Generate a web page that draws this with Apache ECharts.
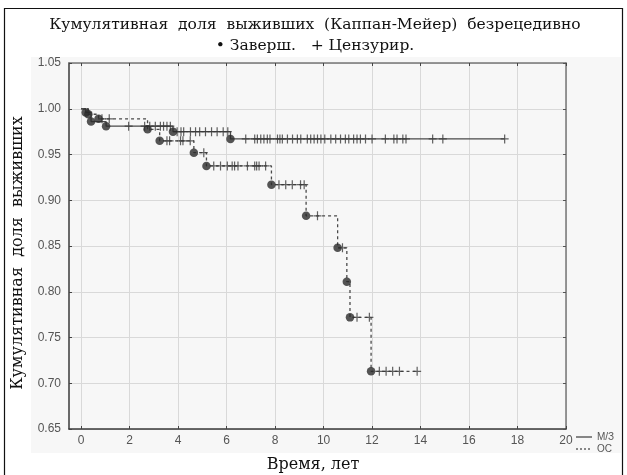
<!DOCTYPE html>
<html>
<head>
<meta charset="utf-8">
<script src="https://cdn.jsdelivr.net/npm/echarts@6/dist/echarts.min.js"></script>
<style>
  html, body { margin: 0; padding: 0; background: #fff; }
  #chart { width: 627px; height: 475px; }
</style>
</head>
<body>
<div id="chart"></div>
<script>
// Kaplan–Meier relapse-free survival, two groups.
// Events (completed observations): time in years and survival after the drop.
const mzEventTime = [0.19, 0.41, 1.03, 3.79, 6.16];
const mzEventSurv = [0.996, 0.986, 0.981, 0.975, 0.967];
// Censored observations (years)
const mzCensorTime = [1.96, 2.62, 2.83, 3.06, 3.27, 3.40, 3.54, 3.68, 3.96, 4.12, 4.23, 4.51, 4.72, 4.89,
  5.13, 5.38, 5.61, 5.86, 6.05, 6.79, 7.16, 7.27, 7.41, 7.54, 7.68, 7.79, 8.10, 8.20, 8.30, 8.51,
  8.72, 8.92, 9.06, 9.33, 9.47, 9.61, 9.75, 9.89, 10.05, 10.30, 10.50, 10.70, 10.90, 11.04, 11.24,
  11.38, 11.52, 11.73, 12.00, 12.55, 12.90, 13.03, 13.27, 13.40, 14.50, 14.92, 17.47];

const ocEventTime = [0.30, 0.72, 2.74, 3.24, 4.65, 5.17, 7.85, 9.28, 10.58, 10.96, 11.09, 11.96];
const ocEventSurv = [0.994, 0.989, 0.9775, 0.965, 0.952, 0.9375, 0.917, 0.883, 0.848, 0.811, 0.772, 0.713];
const ocCensorTime = [0.86, 1.16, 3.54, 3.65, 4.10, 4.20, 4.50, 5.06, 5.47, 5.75, 6.03, 6.23, 6.33, 6.47,
  6.86, 7.16, 7.24, 7.34, 7.61, 8.16, 8.44, 8.71, 9.05, 9.20, 9.75, 10.78, 11.38, 11.89, 12.30,
  12.58, 12.85, 13.13, 13.86];

const seriesNames = ['М/З', 'ОС'];
const xTicks = [0, 2, 4, 6, 8, 10, 12, 14, 16, 18, 20];

// survival level of a step curve at time t
function survAt(times, surv, t) {
  let s = 1;
  for (let i = 0; i < times.length; i++) if (times[i] <= t) s = surv[i];
  return s;
}
function stepLine(times, surv, censor) {
  const pts = [[0, 1]];
  times.forEach((t, i) => pts.push([t, surv[i]]));
  const last = censor[censor.length - 1];
  pts.push([last, survAt(times, surv, last)]);
  return pts;
}
function censorPts(times, surv, censor) {
  return censor.map(t => [t, survAt(times, surv, t)]);
}
function eventPts(times, surv) {
  return times.map((t, i) => [t, surv[i]]);
}

const plusPath = 'path://M3.4,0H4.6V3.9H8V5.1H4.6V9H3.4V5.1H0V3.9H3.4Z';
const lineColor = '#4a4a4a';
const markColor = '#2a2a2a';
const serif = '"DejaVu Serif", "Liberation Serif", serif';
const sans = '"Liberation Sans", Arial, sans-serif';

const chart = echarts.init(document.getElementById('chart'), null, { renderer: 'canvas' });

const gridLine = { show: true, lineStyle: { color: '#d9d9d9', width: 1 } };
const xMin = -0.5, xMax = 20;

function xAxisDef(pos, showLabels) {
  return {
    type: 'value', min: xMin, max: xMax, position: pos,
    axisLine: { show: true, onZero: false, lineStyle: { color: pos === 'bottom' ? '#3a3a3a' : '#777', width: 1.5 } },
    axisTick: { show: true, inside: true, length: 3, customValues: xTicks, lineStyle: { color: '#444' } },
    axisLabel: { show: showLabels, customValues: xTicks, color: '#555', fontSize: 12, fontFamily: sans, margin: 6 },
    splitLine: showLabels ? gridLine : { show: false }
  };
}

chart.setOption({
  animation: false,
  backgroundColor: '#fff',
  graphic: [
    { type: 'rect', z: -10, shape: { x: 31, y: 57, width: 590, height: 396 }, style: { fill: '#f7f7f7' } },
    { type: 'rect', z: 100, shape: { x: 4.5, y: 8.5, width: 618, height: 480 }, style: { fill: 'none', stroke: '#111', lineWidth: 1.2 } },
    { type: 'text', x: 315, y: 25, style: { text: 'Кумулятивная  доля  выживших  (Каппан-Мейер)  безрецедивно', font: '15.5px ' + serif, fill: '#111', align: 'center', verticalAlign: 'middle' } },
    { type: 'text', x: 315, y: 46, style: { text: '• Заверш.   + Цензурир.', font: '15.5px ' + serif, fill: '#111', align: 'center', verticalAlign: 'middle' } },
    { type: 'text', x: 18, y: 253, rotation: Math.PI / 2, style: { text: 'Кумулятивная  доля  выживших', font: '16px ' + serif, fill: '#111', align: 'center', verticalAlign: 'middle' } },
    { type: 'text', x: 313, y: 465, style: { text: 'Время, лет', font: '16px ' + serif, fill: '#111', align: 'center', verticalAlign: 'middle' } },
    // legend keys
    { type: 'line', shape: { x1: 576, y1: 437, x2: 592, y2: 437 }, style: { stroke: lineColor, lineWidth: 1.3 } },
    { type: 'text', x: 597, y: 437, style: { text: seriesNames[0], font: '10px ' + sans, fill: '#555', verticalAlign: 'middle' } },
    { type: 'line', shape: { x1: 576, y1: 449, x2: 592, y2: 449 }, style: { stroke: lineColor, lineWidth: 1.3, lineDash: [2, 2] } },
    { type: 'text', x: 597, y: 449, style: { text: seriesNames[1], font: '10px ' + sans, fill: '#555', verticalAlign: 'middle' } }
  ],
  grid: { left: 69, right: 61, top: 63, bottom: 46, show: false },
  xAxis: [xAxisDef('bottom', true), xAxisDef('top', false)],
  yAxis: [
    {
      type: 'value', min: 0.65, max: 1.05, interval: 0.05, position: 'left',
      axisLine: { show: true, onZero: false, lineStyle: { color: '#3a3a3a', width: 1.5 } },
      axisTick: { show: true, inside: true, length: 3, lineStyle: { color: '#444' } },
      axisLabel: { color: '#555', fontSize: 12, fontFamily: sans, margin: 8, formatter: v => v.toFixed(2) },
      splitLine: gridLine
    },
    {
      type: 'value', min: 0.65, max: 1.05, interval: 0.05, position: 'right',
      axisLine: { show: true, onZero: false, lineStyle: { color: '#777', width: 1.5 } },
      axisTick: { show: true, inside: true, length: 3, lineStyle: { color: '#555' } },
      axisLabel: { show: false }, splitLine: { show: false }
    }
  ],
  series: [
    {
      name: seriesNames[0], type: 'line', step: 'end', symbol: 'none', z: 2,
      data: stepLine(mzEventTime, mzEventSurv, mzCensorTime),
      lineStyle: { color: lineColor, width: 1.3, type: 'solid' }
    },
    {
      name: seriesNames[1], type: 'line', step: 'end', symbol: 'none', z: 2,
      data: stepLine(ocEventTime, ocEventSurv, ocCensorTime),
      lineStyle: { color: lineColor, width: 1.3, type: [3, 3] }
    },
    {
      type: 'scatter', symbol: plusPath, symbolSize: [8, 9], z: 3,
      data: censorPts(mzEventTime, mzEventSurv, mzCensorTime),
      itemStyle: { color: '#3a3a3a' }
    },
    {
      type: 'scatter', symbol: plusPath, symbolSize: [8, 9], z: 3,
      data: censorPts(ocEventTime, ocEventSurv, ocCensorTime),
      itemStyle: { color: '#3a3a3a' }
    },
    {
      type: 'scatter', symbol: 'circle', symbolSize: 8.5, z: 4,
      data: eventPts(mzEventTime, mzEventSurv),
      itemStyle: { color: markColor }
    },
    {
      type: 'scatter', symbol: 'circle', symbolSize: 8.5, z: 4,
      data: eventPts(ocEventTime, ocEventSurv),
      itemStyle: { color: markColor }
    }
  ]
});
</script>
</body>
</html>
